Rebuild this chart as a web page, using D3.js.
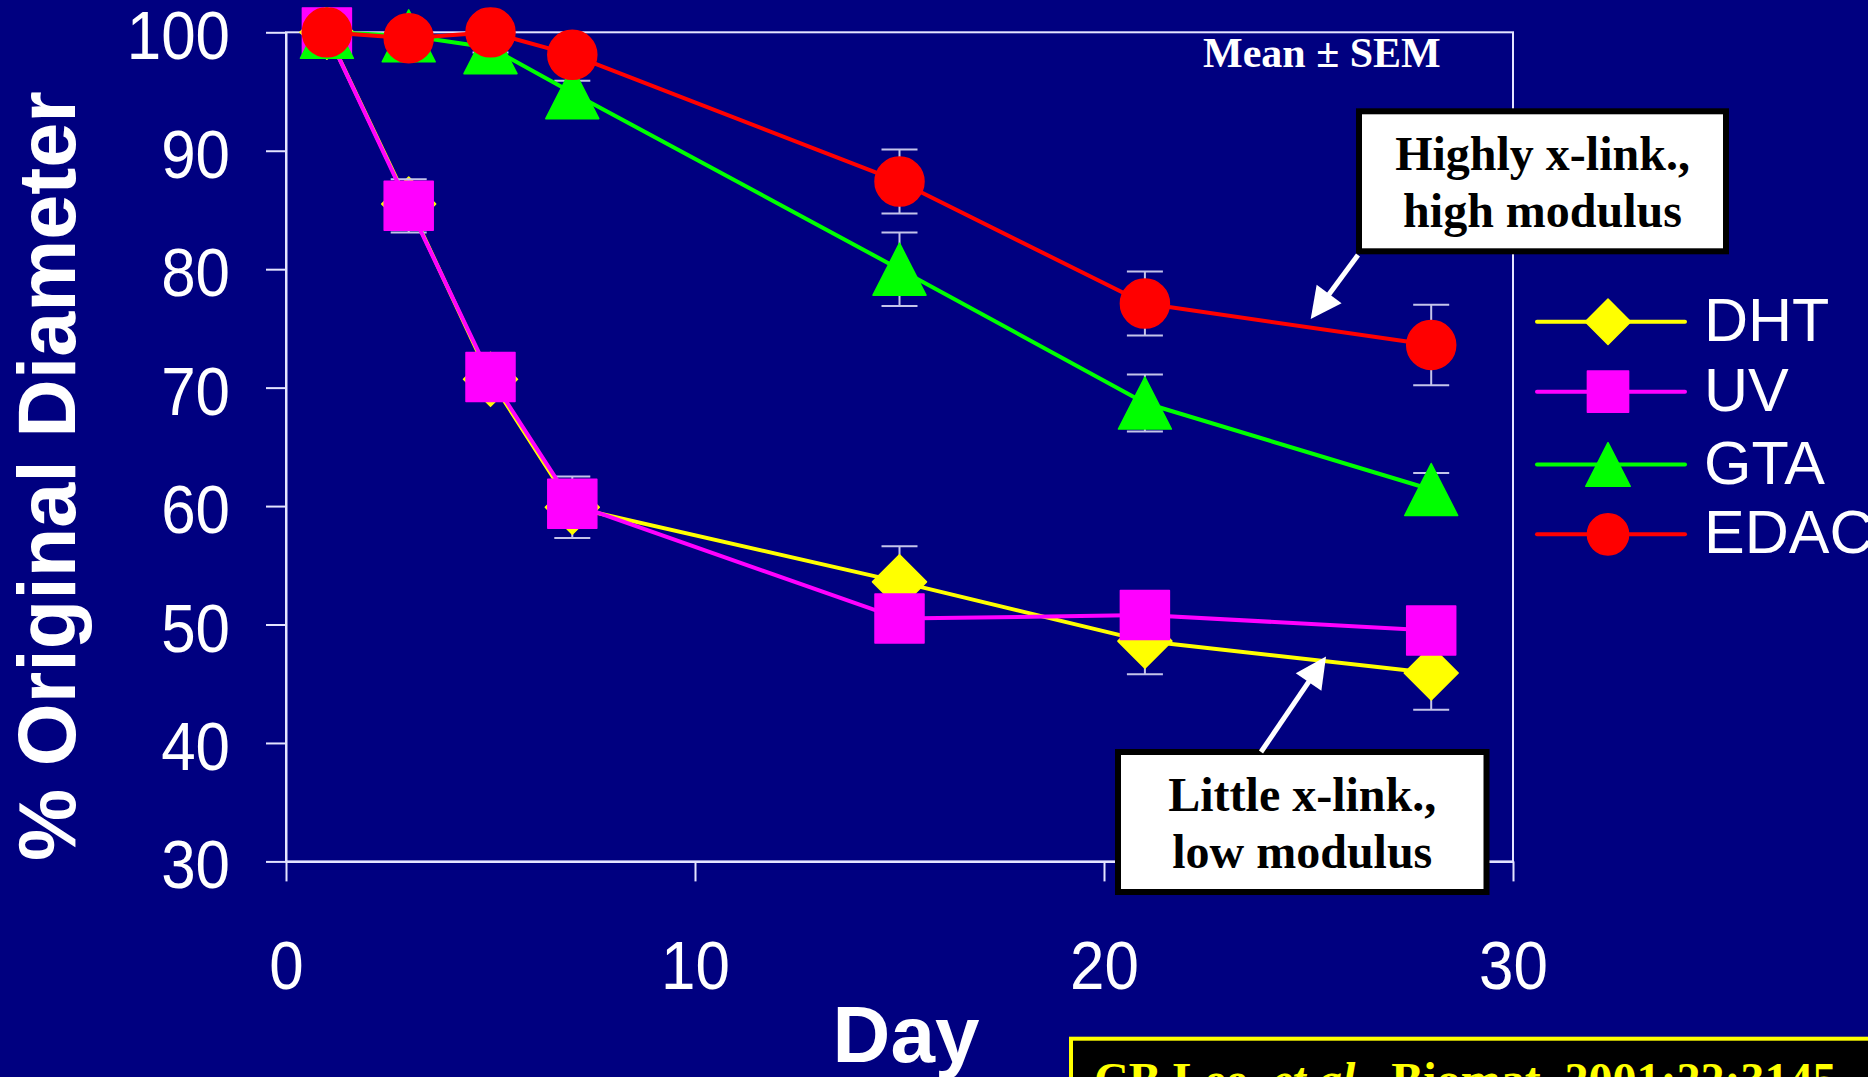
<!DOCTYPE html>
<html>
<head>
<meta charset="utf-8">
<script src="https://cdn.jsdelivr.net/npm/d3@7"></script>
<style>
  html, body { margin: 0; padding: 0; background: #000080; overflow: hidden; }
  svg { display: block; }
</style>
</head>
<body>
<svg id="chart" width="1868" height="1077"></svg>
<script>
// ---------------- DATA ----------------
const days = [1, 3, 5, 7, 15, 21, 28];
const seriesNames = ["DHT", "UV", "GTA", "EDAC"];
const dhtValues  = [100, 85.5, 70.7, 59.9, 53.6, 48.6, 45.9];
const dhtErrors  = [0.3, 1.5, 1.5, 2.6, 3.0, 2.8, 3.1];
const uvValues   = [100, 85.35, 70.9, 60.2, 50.5, 50.8, 49.5];
const uvErrors   = [0.3, 2.25, 1.5, 1.8, 1.5, 1.5, 1.5];
const gtaValues  = [100, 99.7, 98.7, 94.9, 80.0, 68.7, 61.4];
const gtaErrors  = [0.5, 0.5, 0.4, 1.0, 3.1, 2.4, 1.4];
const edacValues = [100, 99.5, 100, 98.1, 87.4, 77.1, 73.6];
const edacErrors = [0.5, 0.5, 1.0, 1.2, 2.7, 2.7, 3.4];
const xTicks = [0, 10, 20, 30];
const yTicks = [30, 40, 50, 60, 70, 80, 90, 100];
const xTitle = "Day";
const yTitle = "% Original Diameter";
const noteText = "Mean \u00B1 SEM";
const highText = ["Highly x-link.,", "high modulus"];
const lowText = ["Little x-link.,", "low modulus"];

// ---------------- SETUP ----------------
const svg = d3.select("#chart");
const W = 1868, H = 1077;
const sans = "'Liberation Sans', Arial, Helvetica, sans-serif";
const serif = "'Liberation Serif', 'Times New Roman', Times, serif";
const axisColor = "#e4e4ff";
const errColor = "#c4c4ea";

svg.append("rect").attr("width", W).attr("height", H).attr("fill", "#000080");

const x = d3.scaleLinear().domain([0, 30]).range([286, 1513]);
const y = d3.scaleLinear().domain([30, 100]).range([861.4, 32.3]);

const series = [
  { name: seriesNames[0], values: dhtValues,  errors: dhtErrors,  color: "#ffff00", shape: "diamond" },
  { name: seriesNames[1], values: uvValues,   errors: uvErrors,   color: "#ff00ff", shape: "square" },
  { name: seriesNames[2], values: gtaValues,  errors: gtaErrors,  color: "#00ff00", shape: "triangle" },
  { name: seriesNames[3], values: edacValues, errors: edacErrors, color: "#ff0000", shape: "circle" }
];

function markerPath(shape, s) {
  if (shape === "diamond") {
    const r = 27 * s;
    return `M0,${-r}L${r},0L0,${r}L${-r},0Z`;
  }
  if (shape === "square") {
    const h = 24.5 * s;
    return `M${-h},${-h}H${h}V${h}H${-h}Z`;
  }
  if (shape === "triangle") {
    const hw = 26.5 * s, hh = 26 * s;
    return `M0,${-hh}L${hw},${hh}L${-hw},${hh}Z`;
  }
  const r = 24.5 * s;
  return `M${-r},0A${r},${r} 0 1,0 ${r},0A${r},${r} 0 1,0 ${-r},0Z`;
}

// ---------------- FRAME & AXES ----------------
svg.append("rect")
  .attr("x", x(0)).attr("y", y(100))
  .attr("width", x(30) - x(0)).attr("height", y(30) - y(100))
  .attr("fill", "none").attr("stroke", axisColor).attr("stroke-width", 2);

const gy = svg.append("g").attr("transform", `translate(${x(0)},0)`)
  .call(d3.axisLeft(y).tickValues(yTicks).tickSize(20).tickSizeOuter(0).tickFormat(d3.format("d")));
gy.select(".domain").attr("stroke", axisColor).attr("stroke-width", 2);
gy.selectAll(".tick line").attr("stroke", axisColor).attr("stroke-width", 2);
gy.selectAll(".tick text")
  .attr("x", 0).attr("y", 0).attr("dy", 0)
  .attr("transform", "translate(-56,26.5) scale(0.91,1)")
  .attr("fill", "#ffffff").attr("font-family", sans).attr("font-size", 68)
  .attr("text-anchor", "end");

const gx = svg.append("g").attr("transform", `translate(0,${y(30)})`)
  .call(d3.axisBottom(x).tickValues(xTicks).tickSize(20).tickSizeOuter(0).tickFormat(d3.format("d")));
gx.select(".domain").attr("stroke", axisColor).attr("stroke-width", 2);
gx.selectAll(".tick line").attr("stroke", axisColor).attr("stroke-width", 2);
gx.selectAll(".tick text")
  .attr("x", 0).attr("y", 0).attr("dy", 0)
  .attr("transform", "translate(0,128) scale(0.91,1)")
  .attr("fill", "#ffffff").attr("font-family", sans).attr("font-size", 68)
  .attr("text-anchor", "middle");

gy.attr("font-family", null); gx.attr("font-family", null);

// ---------------- SERIES ----------------
svg.append("clipPath").attr("id", "topclip")
  .append("rect").attr("x", 0).attr("y", 7.3).attr("width", W).attr("height", H);

const plot = svg.append("g").attr("clip-path", "url(#topclip)");
const line = d3.line().x(d => x(d.day)).y(d => y(d.value));

series.forEach(s => {
  const pts = days.map((d, i) => ({ day: d, value: s.values[i], err: s.errors[i] }));
  const g = plot.append("g");
  const eb = g.selectAll(".eb").data(pts).join("g");
  eb.append("line")
    .attr("x1", d => x(d.day)).attr("x2", d => x(d.day))
    .attr("y1", d => y(d.value + d.err)).attr("y2", d => y(d.value - d.err))
    .attr("stroke", errColor).attr("stroke-width", 2);
  eb.append("line")
    .attr("x1", d => x(d.day) - 18).attr("x2", d => x(d.day) + 18)
    .attr("y1", d => y(d.value + d.err)).attr("y2", d => y(d.value + d.err))
    .attr("stroke", errColor).attr("stroke-width", 2);
  eb.append("line")
    .attr("x1", d => x(d.day) - 18).attr("x2", d => x(d.day) + 18)
    .attr("y1", d => y(d.value - d.err)).attr("y2", d => y(d.value - d.err))
    .attr("stroke", errColor).attr("stroke-width", 2);
  g.append("path").datum(pts).attr("d", line)
    .attr("fill", "none").attr("stroke", s.color).attr("stroke-width", 4)
    .attr("stroke-linejoin", "round");
  g.selectAll(".mk").data(pts).join("path")
    .attr("transform", d => `translate(${x(d.day)},${y(d.value)})`)
    .attr("d", markerPath(s.shape, 1))
    .attr("fill", s.color).attr("stroke", s.color).attr("stroke-width", 1.5)
    .attr("stroke-linejoin", "round");
});

// ---------------- ANNOTATIONS ----------------
svg.append("text").attr("x", 1203).attr("y", 66.7)
  .attr("font-family", serif).attr("font-weight", "bold").attr("font-size", 42)
  .attr("fill", "#ffffff").text(noteText);

function arrow(x1, y1, x2, y2) {
  const dx = x2 - x1, dy = y2 - y1, L = Math.hypot(dx, dy);
  const ux = dx / L, uy = dy / L, px = -uy, py = ux;
  const hl = 31, hw = 15.5;
  const bx = x2 - ux * hl, by = y2 - uy * hl;
  svg.append("line").attr("x1", x1).attr("y1", y1).attr("x2", bx + ux * 2).attr("y2", by + uy * 2)
    .attr("stroke", "#ffffff").attr("stroke-width", 5);
  svg.append("path")
    .attr("d", `M${x2},${y2}L${bx + px * hw},${by + py * hw}L${bx - px * hw},${by - py * hw}Z`)
    .attr("fill", "#ffffff");
}

function noteBox(x0, y0, w, h, lines) {
  svg.append("rect").attr("x", x0 + 3).attr("y", y0 + 3).attr("width", w - 6).attr("height", h - 6)
    .attr("fill", "#ffffff").attr("stroke", "#000000").attr("stroke-width", 6);
  lines.forEach((t, i) => {
    svg.append("text").attr("x", x0 + w / 2).attr("y", y0 + 62 + i * 57)
      .attr("text-anchor", "middle")
      .attr("font-family", serif).attr("font-weight", "bold").attr("font-size", 48)
      .attr("fill", "#000000").text(t);
  });
}

noteBox(1356, 108.3, 373, 146, highText);
arrow(1358, 255, 1310.7, 319);
noteBox(1115, 749, 374.5, 146, lowText);
arrow(1261, 752, 1326, 656.4);

// ---------------- LEGEND ----------------
const legY = [321.7, 391.7, 464.5, 534.3];
const legend = svg.append("g");
series.forEach((s, i) => {
  const ly = legY[i];
  legend.append("line").attr("x1", 1537).attr("x2", 1685).attr("y1", ly).attr("y2", ly)
    .attr("stroke", s.color).attr("stroke-width", 4).attr("stroke-linecap", "round");
  legend.append("path").attr("transform", `translate(1608,${ly})`)
    .attr("d", markerPath(s.shape, 0.84))
    .attr("fill", s.color).attr("stroke", s.color).attr("stroke-width", 1.5).attr("stroke-linejoin", "round");
  legend.append("text").attr("x", 1704).attr("y", ly + 19)
    .attr("font-family", sans).attr("font-size", 61).attr("fill", "#ffffff").text(s.name);
});

// ---------------- TITLES ----------------
svg.append("text").attr("x", 906).attr("y", 1061.7).attr("text-anchor", "middle")
  .attr("font-family", sans).attr("font-weight", "bold").attr("font-size", 80)
  .attr("fill", "#ffffff").text(xTitle);

svg.append("text").attr("transform", "translate(75,476) rotate(-90)")
  .attr("text-anchor", "middle")
  .attr("font-family", sans).attr("font-weight", "bold").attr("font-size", 81)
  .attr("fill", "#ffffff").text(yTitle);

// ---------------- CITATION ----------------
svg.append("rect").attr("x", 1071).attr("y", 1038.7).attr("width", 900).attr("height", 120)
  .attr("fill", "#000000").attr("stroke", "#ffff00").attr("stroke-width", 4);
const cite = svg.append("text").attr("x", 1094).attr("y", 1096)
  .attr("font-family", serif).attr("font-weight", "bold").attr("font-size", 48).attr("fill", "#ffff00");
cite.append("tspan").text("CB Lee, ");
cite.append("tspan").attr("font-style", "italic").text("et al.");
cite.append("tspan").text(", Biomat. 2001;22:3145");
</script>
</body>
</html>
